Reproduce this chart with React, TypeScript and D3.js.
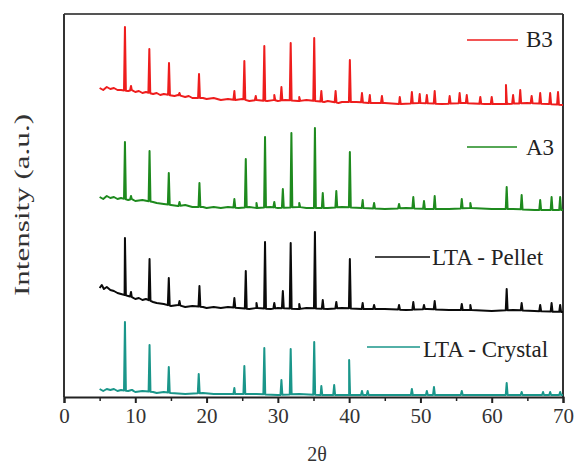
import React, { useEffect, useRef } from "react";
import * as d3 from "d3";

const xTicks = [0, 10, 20, 30, 40, 50, 60, 70];
const xMinorTicks = [5, 15, 25, 35, 45, 55, 65];
const seriesNames = ["B3", "A3", "LTA - Pellet", "LTA - Crystal"];
const seriesColors = ["#ee1d1d", "#1e8a1e", "#0a0a0a", "#1a968a"];

// baseline points [2θ, intensity]
const b3Baseline: [number, number][] = [[5,309],[5.5,307],[6,310],[6.5,308],[7,309],[7.5,307],[8,307],[9,306],[9.5,307],[10,305],[10.5,306],[11,304],[11.5,305],[12.5,303],[13,304],[13.5,302],[14,303],[15.5,301],[16,302],[17,300],[17.5,301],[18,299],[19.5,299],[20,298],[21,299],[22,297],[23,298],[24,297],[25,298],[26,296],[27,297],[28.5,296],[29.5,297],[30,296],[31,297],[33,296],[34,297],[36.5,295],[37,296],[38.5,294],[39,295],[41,295],[43,294],[45,294],[47,293],[50,294],[53,293],[56,294],[59,293],[62,293],[65,294],[68,293],[70,292]];
const a3Baseline: [number, number][] = [[5,200],[5.5,198],[6,201],[6.5,199],[7,200],[7.5,198],[8,199],[9,197],[9.5,198],[10,196],[11,197],[12.5,195],[13,194],[14,193],[15,192],[16,191],[17,192],[18,190],[19.5,190],[20,189],[21,190],[22,189],[23,190],[24.5,189],[26,190],[27,189],[29,190],[30,189],[33,190],[34,189],[37,189],[39,190],[42,189],[45,188],[48,189],[51,188],[54,188],[57,189],[60,188],[63,188],[66,187],[70,187]];
const pelletBaseline: [number, number][] = [[5,109],[5.3,112],[5.6,108],[6,110],[6.5,107],[7,106],[7.5,104],[8,103],[8.5,102],[9,101],[9.5,100],[10,98],[10.5,99],[11,97],[11.5,98],[12.5,95],[13,94],[14,93],[15,91],[16,92],[17,90],[18,91],[19.5,90],[20,89],[21,90],[22,89],[23,90],[24.5,89],[26,88],[27,89],[29,88],[30,89],[33,88],[34,89],[37,88],[39,89],[42,88],[45,88],[48,87],[51,88],[54,87],[57,87],[60,86],[63,87],[66,86],[70,85]];
const crystalBaseline: [number, number][] = [[5,8],[5.5,6],[6,8],[6.5,7],[7,8],[7.5,6],[8,7],[9,6],[9.5,7],[10,5],[11,6],[12.5,5],[13,4],[14,5],[15,4],[17,3],[19.5,4],[21,3],[24,3],[27,3],[30,2],[33,3],[36,2],[40,2],[45,2],[50,2],[55,2],[60,2],[65,2],[70,2]];

// peaks [2θ, top intensity]
const b3Peaks: [number, number][] = [[8.55,370],[9.4,311],[11.97,348],[14.73,334],[16.2,304],[18.94,323],[23.9,306],[25.3,336],[26.9,301],[28.1,351],[29.5,302],[30.5,310],[31.8,354],[33.0,300],[35.1,359],[36.1,306],[38.1,306],[40.1,337],[41.8,304],[42.9,302],[44.6,301],[47.1,300],[48.8,305],[49.9,303],[50.9,302],[52.0,306],[54.1,301],[55.5,304],[56.5,302],[58.4,300],[60.0,300],[62.0,312],[63.0,302],[64.0,307],[65.6,301],[66.8,304],[68.2,304],[69.3,305]];
const a3Peaks: [number, number][] = [[8.55,255],[9.4,201],[12.0,246],[14.7,224],[16.2,195],[19.0,214],[23.9,198],[25.5,238],[27.0,194],[28.2,260],[29.5,195],[30.7,208],[31.9,264],[33.0,194],[35.2,269],[36.3,204],[38.2,206],[40.1,245],[41.9,197],[43.5,194],[47.0,193],[49.0,200],[50.5,196],[52.0,201],[55.8,198],[57.0,194],[62.1,210],[64.2,202],[66.8,197],[68.4,200],[69.6,200]];
const pelletPeaks: [number, number][] = [[8.55,159],[9.4,105],[12.0,138],[14.7,119],[16.2,96],[19.0,111],[23.9,99],[25.5,126],[27.0,94],[28.2,155],[29.5,94],[30.7,106],[31.8,154],[33.0,93],[35.2,165],[36.3,97],[38.2,95],[40.1,138],[41.9,94],[43.5,92],[47.0,92],[49.0,95],[50.5,92],[52.0,96],[55.8,93],[57.0,92],[62.1,108],[64.2,94],[66.8,92],[68.4,94],[69.6,92]];
const crystalPeaks: [number, number][] = [[8.55,75],[9.6,7],[12.0,52],[14.7,30],[18.9,23],[23.9,9],[25.3,31],[28.1,49],[30.5,17],[31.8,48],[35.1,55],[36.1,11],[37.9,12],[40.0,37],[41.8,6],[42.6,6],[48.8,8],[50.9,6],[51.9,10],[55.8,6],[62.1,14],[64.2,5],[67.2,5],[68.2,5],[69.6,5]];

const baselines = [b3Baseline, a3Baseline, pelletBaseline, crystalBaseline];
const peakLists = [b3Peaks, a3Peaks, pelletPeaks, crystalPeaks];

const W = 576, H = 467;
const M = { left: 64, right: 563, top: 14, bottom: 397 };

function baseAt(base: [number, number][], x: number) {
  const i = d3.bisector((d: [number, number]) => d[0]).left(base, x);
  if (i <= 0) return base[0][1];
  if (i >= base.length) return base[base.length - 1][1];
  const a = base[i - 1], b = base[i];
  return a[1] + ((x - a[0]) / (b[0] - a[0])) * (b[1] - a[1]);
}

function buildSeries(base: [number, number][], peaks: [number, number][]) {
  const pts: [number, number][] = base.slice();
  peaks.forEach(([p, top]) => {
    pts.push([p - 0.13, baseAt(base, p - 0.13)]);
    pts.push([p, top]);
    pts.push([p + 0.13, baseAt(base, p + 0.13)]);
  });
  pts.sort((a, b) => a[0] - b[0]);
  return pts;
}

export default function App() {
  const ref = useRef<SVGSVGElement>(null);
  useEffect(() => {
    const svg = d3.select(ref.current);
    svg.selectAll("*").remove();
    const x = d3.scaleLinear().domain([0, 70]).range([M.left, M.right]);
    const y = d3.scaleLinear().domain([0, 383]).range([M.bottom, M.top]);
    const font = "'Liberation Serif', 'Times New Roman', serif";

    // frame
    svg.append("line").attr("x1", M.left).attr("x2", M.right).attr("y1", M.top).attr("y2", M.top)
      .attr("stroke", "#555").attr("stroke-width", 2);
    svg.append("line").attr("x1", M.right).attr("x2", M.right).attr("y1", M.top).attr("y2", M.bottom)
      .attr("stroke", "#333").attr("stroke-width", 2);
    svg.append("line").attr("x1", M.left).attr("x2", M.left).attr("y1", M.top).attr("y2", M.bottom)
      .attr("stroke", "#333").attr("stroke-width", 2);

    const line = d3.line<[number, number]>().x(d => x(d[0])).y(d => y(d[1]));
    baselines.forEach((base, i) => {
      const pts = buildSeries(base, peakLists[i]);
      svg.append("path").attr("d", line(pts)!).attr("fill", "none")
        .attr("stroke", seriesColors[i]).attr("stroke-width", 2).attr("stroke-linejoin", "round");
    });

    // bottom axis
    const ax = svg.append("g").attr("transform", `translate(0,${M.bottom})`)
      .call(d3.axisBottom(x).tickValues(xTicks).tickSize(6).tickPadding(5).tickFormat(d3.format("d")));
    ax.select(".domain").attr("stroke", "#222").attr("stroke-width", 2);
    ax.selectAll(".tick line").attr("stroke", "#222").attr("stroke-width", 2);
    ax.selectAll("text").attr("font-family", font).attr("font-size", 21).attr("fill", "#333");
    const axm = svg.append("g").attr("transform", `translate(0,${M.bottom})`)
      .call(d3.axisBottom(x).tickValues(xMinorTicks).tickSize(4).tickFormat(() => ""));
    axm.select(".domain").remove();
    axm.selectAll(".tick line").attr("stroke", "#222").attr("stroke-width", 1.5);

    // axis titles
    svg.append("text").attr("x", 317).attr("y", 461).attr("text-anchor", "middle")
      .attr("font-family", font).attr("font-size", 20).attr("fill", "#333").text("2θ");
    svg.append("text").attr("transform", "translate(29,205) rotate(-90)").attr("text-anchor", "middle")
      .attr("font-family", font).attr("font-size", 21).attr("fill", "#333")
      .attr("textLength", 182).attr("lengthAdjust", "spacingAndGlyphs").text("Intensity (a.u.)");

    // legends
    const legend = [
      { x1: 467, x2: 518, y: 40, tx: 526, ty: 47 },
      { x1: 467, x2: 517, y: 147, tx: 526, ty: 155 },
      { x1: 375, x2: 430, y: 257, tx: 432, ty: 265 },
      { x1: 367, x2: 420, y: 347, tx: 423, ty: 357 },
    ];
    legend.forEach((l, i) => {
      svg.append("line").attr("x1", l.x1).attr("x2", l.x2).attr("y1", l.y).attr("y2", l.y)
        .attr("stroke", seriesColors[i]).attr("stroke-width", 1.7);
      svg.append("text").attr("x", l.tx).attr("y", l.ty).attr("font-family", font)
        .attr("font-size", 23).attr("fill", "#222").text(seriesNames[i]);
    });
  }, []);
  return (
    <svg ref={ref} width={W} height={H} style={{ position: "absolute", left: 0, top: 0, background: "#fff" }} />
  );
}
